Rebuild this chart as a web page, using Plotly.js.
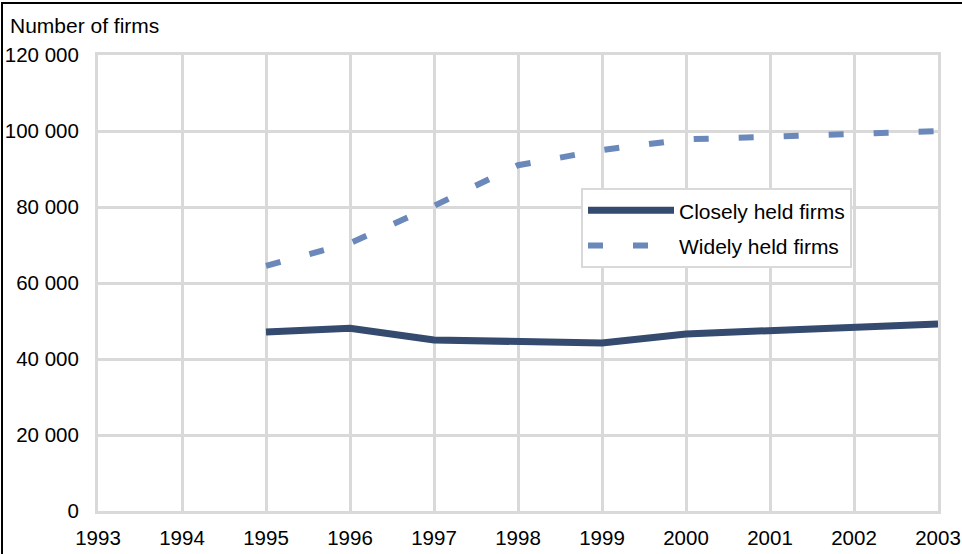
<!DOCTYPE html>
<html>
<head>
<meta charset="utf-8">
<script src="https://cdn.plot.ly/plotly-3.0.1.min.js"></script>
<style>
body{margin:0;padding:0;background:#fff;}
#wrap{position:relative;width:962px;height:554px;}
#chart{width:962px;height:554px;}
#frame{position:absolute;left:1px;top:2px;right:0;bottom:0;border-left:2px solid #000;border-top:2px solid #000;pointer-events:none;}
</style>
</head>
<body>
<div id="wrap"><div id="chart"></div><div id="frame"></div></div>
<script>
var years = [1995, 1996, 1997, 1998, 1999, 2000, 2001, 2002, 2003];
var closelyHeld = [47100, 48100, 45000, 44700, 44200, 46600, 47400, 48200, 49200];
var widelyHeld = [64500, 70500, 80300, 91000, 95000, 97800, 98500, 99400, 100000];
var seriesNames = ['Closely held firms', 'Widely held firms'];
var xTicks = [1993, 1994, 1995, 1996, 1997, 1998, 1999, 2000, 2001, 2002, 2003];
var yTicks = [0, 20000, 40000, 60000, 80000, 100000, 120000];

var tickFont = {family: 'Liberation Sans, Arial, sans-serif', size: 20.5, color: '#000'};
var textFont = {family: 'Liberation Sans, Arial, sans-serif', size: 21, color: '#000'};
var grid = '#d9d9d9';

var traces = [
  {x: years, y: closelyHeld, name: seriesNames[0], mode: 'lines', type: 'scatter',
   legendgroup: 'a', line: {color: '#344a6e', width: 7, shape: 'linear'}},
  {x: years, y: widelyHeld, name: seriesNames[1], mode: 'lines', type: 'scatter',
   legendgroup: 'b', line: {color: '#6b88ba', width: 6, dash: '15px,30px'}}
];

var layout = {
  width: 962, height: 554,
  margin: {l: 98, r: 24, t: 55, b: 43, pad: 0},
  paper_bgcolor: '#fff', plot_bgcolor: '#fff',
  font: tickFont,
  separators: ', ',
  showlegend: true,
  legend: {x: 0.575, y: 0.708, xanchor: 'left', yanchor: 'top',
    bgcolor: '#fff', bordercolor: grid, borderwidth: 2, font: textFont,
    itemwidth: 86, traceorder: 'grouped', tracegroupgap: 5},
  xaxis: {range: [1993, 2003], tickvals: xTicks, ticktext: xTicks.map(String),
    showgrid: true, gridcolor: grid, gridwidth: 3,
    showline: true, linecolor: grid, linewidth: 3, mirror: true,
    zeroline: false, ticks: '', ticklabelstandoff: 6, tickfont: tickFont, fixedrange: true},
  yaxis: {range: [0, 120000], tickvals: yTicks, tickformat: ',d',
    showgrid: true, gridcolor: grid, gridwidth: 3,
    showline: true, linecolor: grid, linewidth: 3, mirror: true,
    zeroline: false, ticks: '', ticklabelstandoff: 12, tickfont: tickFont, fixedrange: true},
  annotations: [{text: 'Number of firms', xref: 'paper', yref: 'paper',
    x: -0.107, y: 1.0636, xanchor: 'left', yanchor: 'middle', showarrow: false, font: textFont}]
};

Plotly.newPlot('chart', traces, layout, {displayModeBar: false, staticPlot: true});
</script>
</body>
</html>
